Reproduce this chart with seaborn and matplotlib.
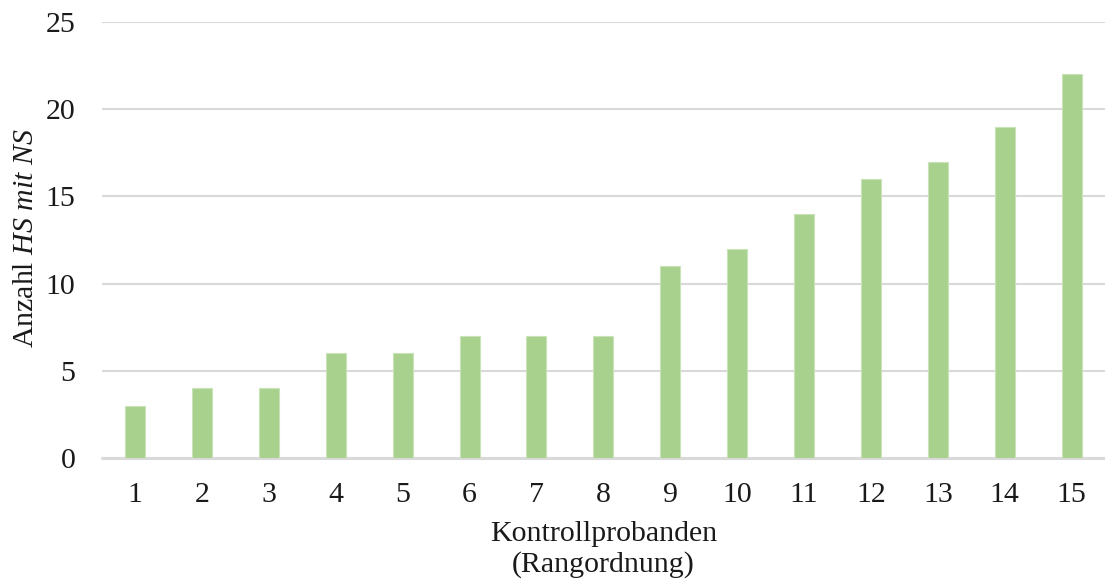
import matplotlib
matplotlib.use("Agg")
import matplotlib.pyplot as plt
import seaborn as sns

# Kontrollprobanden in Rangordnung, Anzahl HS mit NS
probanden = [str(i) for i in range(1, 16)]
anzahl = [3, 4, 4, 6, 6, 7, 7, 7, 11, 12, 14, 16, 17, 19, 22]
y_ticks = [0, 5, 10, 15, 20, 25]

BAR_COLOR = "#A9D18E"
GRID_COLOR = "#D9D9D9"
TEXT_COLOR = "#1a1a1a"


def main() -> None:
    sns.set_theme(style="white")
    plt.rcParams["font.family"] = ["Liberation Serif", "DejaVu Serif"]
    plt.rcParams["mathtext.fontset"] = "custom"
    plt.rcParams["mathtext.rm"] = "Liberation Serif"
    plt.rcParams["mathtext.it"] = "Liberation Serif:italic"

    fig = plt.figure(figsize=(11.05, 5.84), dpi=100)
    ax = fig.add_axes([0.092, 0.2158, 0.908, 0.7465])

    sns.barplot(
        x=probanden,
        y=anzahl,
        color=BAR_COLOR,
        saturation=1,
        width=0.3,
        edgecolor="#C9E3B8",
        linewidth=0.8,
        ax=ax,
        zorder=3,
    )

    ax.set_ylim(0, 25)
    ax.set_yticks(y_ticks)
    ax.yaxis.grid(True, color=GRID_COLOR, linewidth=1.5, zorder=0)
    ax.axhline(0, color=GRID_COLOR, linewidth=2.2, zorder=1, clip_on=False)
    ax.set_axisbelow(True)
    for side in ["top", "right", "left", "bottom"]:
        ax.spines[side].set_visible(False)

    ax.tick_params(axis="y", length=0, pad=19, labelsize=21.5, colors=TEXT_COLOR)
    ax.tick_params(axis="x", length=0, pad=17.5, labelsize=21.5, colors=TEXT_COLOR)

    ax.set_xlabel("Kontrollprobanden\n(Rangordnung)", fontsize=21.5, color=TEXT_COLOR,
                  linespacing=1.2)
    ax.xaxis.set_label_coords(0.5, -0.145)
    ax.xaxis.label.set_va("top")
    ax.set_ylabel(r"Anzahl $HS$ $mit$ $NS$", fontsize=21.5, color=TEXT_COLOR)
    ax.yaxis.set_label_coords(-0.062, 0.505)

    fig.savefig("out.png", dpi=100)
    plt.close(fig)


if __name__ == "__main__":
    main()
